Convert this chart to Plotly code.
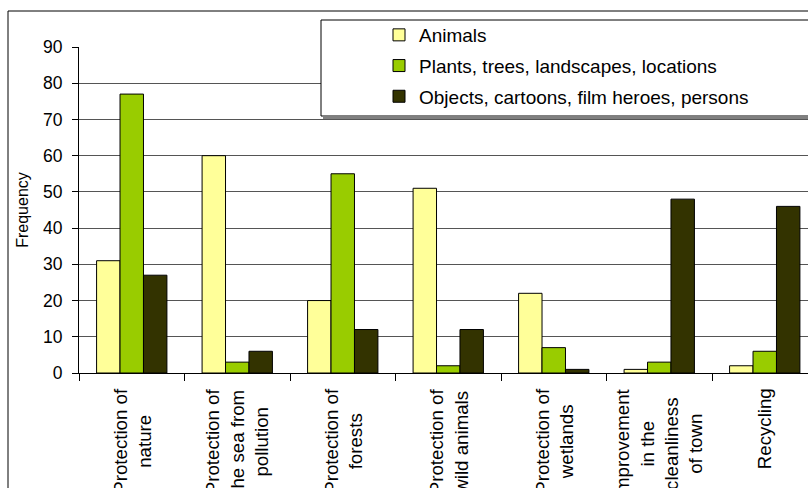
import plotly.graph_objects as go

# ---- data ----
categories = [
    "Protection of<br>nature",
    "Protection of<br>the sea from<br>pollution",
    "Protection of<br>forests",
    "Protection of<br>wild animals",
    "Protection of<br>wetlands",
    "Improvement<br>in the<br>cleanliness<br>of town",
    "Recycling",
]
series_names = [
    "Animals",
    "Plants, trees, landscapes, locations",
    "Objects, cartoons, film heroes, persons",
]
animals = [31, 60, 20, 51, 22, 1, 2]
plants = [77, 3, 55, 2, 7, 3, 6]
objects_ = [27, 6, 12, 12, 1, 48, 46]
series_values = [animals, plants, objects_]
series_colors = ["#FFFF99", "#99CC00", "#333300"]
y_ticks = [0, 10, 20, 30, 40, 50, 60, 70, 80, 90]
y_title = "Frequency"

# ---- geometry (pixels) ----
W, H = 808, 488
L, R, T, B = 79, 0, 47, 115
plot_w = W - L - R
plot_h = H - T - B
cat_px = 105.5  # width of one category in pixels


def px_x(x):
    return (x - L) / plot_w


def px_y(y):
    return (H - B - y) / plot_h


FONT = "Liberation Sans, Arial, sans-serif"

fig = go.Figure()
for i, (name, vals, col) in enumerate(zip(series_names, series_values, series_colors)):
    fig.add_trace(go.Bar(
        x=categories, y=vals, name=name,
        marker=dict(color=col, line=dict(color="black", width=1)),
        legendgroup=f"g{i}",
    ))

# category labels (rotated, centered lines)
for c in categories:
    fig.add_annotation(
        x=c, xref="x", y=0, yref="paper", yanchor="top", xanchor="center",
        text=c, textangle=-90, align="center", showarrow=False,
        yshift=-13, font=dict(family=FONT, size=18.7, color="black"),
    )

shapes = [
    # outer chart border (extends off canvas right/bottom)
    dict(type="rect", xref="paper", yref="paper",
         x0=px_x(8), x1=px_x(W + 30), y0=px_y(H + 30), y1=px_y(11),
         line=dict(color="black", width=1), fillcolor="rgba(0,0,0,0)", layer="below"),
    # legend box shadow
    dict(type="line", xref="paper", yref="paper",
         x0=px_x(323), x1=px_x(W + 30), y0=px_y(118), y1=px_y(118),
         line=dict(color="#808080", width=2), layer="above"),
    # legend box
    dict(type="rect", xref="paper", yref="paper",
         x0=px_x(321), x1=px_x(W + 30), y0=px_y(116), y1=px_y(20),
         line=dict(color="black", width=1), fillcolor="white", layer="above"),
]

fig.update_layout(
    width=W, height=H,
    margin=dict(l=L, r=R, t=T, b=B, pad=0),
    paper_bgcolor="white", plot_bgcolor="white",
    barmode="group", bargap=1 / 3, bargroupgap=0,
    font=dict(family=FONT, size=16, color="black"),
    shapes=shapes,
    showlegend=True,
    legend=dict(
        x=px_x(379), y=px_y(16), xanchor="left", yanchor="top",
        bgcolor="rgba(0,0,0,0)", borderwidth=0,
        font=dict(family=FONT, size=19, color="black"),
        traceorder="grouped", tracegroupgap=3,
    ),
    xaxis=dict(
        type="category", range=[-0.5, -0.5 + plot_w / cat_px],
        showticklabels=False, ticks="outside", tickson="boundaries",
        ticklen=7, tickcolor="black", tickwidth=1,
        showline=True, linecolor="black", linewidth=1,
        showgrid=False, zeroline=False, fixedrange=True,
    ),
    yaxis=dict(
        range=[0, 90], tickvals=y_ticks, ticks="outside", ticklen=6,
        tickcolor="black", showline=True, linecolor="black", linewidth=1,
        showgrid=True, gridcolor="#555555", gridwidth=1, zeroline=False,
        tickfont=dict(family=FONT, size=17.5, color="black"),
        ticklabelstandoff=6,
        title=dict(text=y_title, font=dict(family=FONT, size=16, color="black"), standoff=10),
    ),
)

fig.write_html("out.html")
